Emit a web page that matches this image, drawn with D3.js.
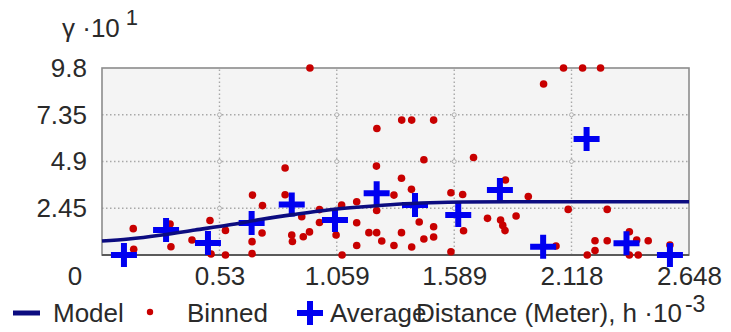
<!DOCTYPE html>
<html>
<head>
<meta charset="utf-8">
<script src="https://cdn.jsdelivr.net/npm/d3@7"></script>
<style>
  html, body { margin: 0; padding: 0; background: #ffffff; }
  svg { display: block; font-family: "Liberation Sans", Arial, sans-serif; }
</style>
</head>
<body>
<svg id="chart" width="731" height="332"></svg>
<script>
// Semivariogram: lag distance h (×10^-3 m) against semivariance γ (×10^1)

// Binned semivariance cloud
const binnedLag = [0.141,0.143,0.307,0.311,0.406,0.487,0.492,0.557,0.557,0.679,
  0.724,0.677,0.677,0.722,0.826,0.826,0.856,0.859,0.901,0.908,
  0.936,0.938,0.981,0.981,1.056,1.081,1.083,1.149,1.149,1.149,
  1.204,1.239,1.239,1.238,1.240,1.262,1.317,1.317,1.351,1.351,
  1.352,1.397,1.396,1.397,1.431,1.452,1.452,1.496,1.496,1.496,
  1.574,1.574,1.627,1.631,1.676,1.739,1.798,1.808,1.818,1.820,
  1.868,1.923,2.048,1.992,2.082,2.168,2.249,2.103,2.279,2.189,
  2.224,2.224,2.279,2.379,2.412,2.464,2.379,2.419,2.562];
const binnedGamma = [1.38,0.30,1.62,0.43,0.79,1.81,0.05,1.29,0.0,3.14,
  2.59,0.70,0.07,1.15,4.56,3.16,1.05,0.71,2.01,0.96,
  1.21,9.8,2.38,1.70,1.05,2.62,0.0,2.79,1.69,0.50,
  1.17,1.17,2.33,4.66,6.63,0.73,3.14,0.50,4.02,1.17,
  7.07,7.07,3.44,0.42,1.73,4.99,0.84,7.07,1.48,0.94,
  3.26,0.17,3.17,1.27,5.11,1.92,1.83,1.55,1.28,3.93,
  2.04,3.06,0.47,8.96,9.8,9.8,9.8,2.39,2.39,0.0,
  0.23,0.75,0.75,1.22,0.79,0.75,0.0,0.0,0.52];

// Averaged semivariance per lag class
const avgLag = [0.099,0.289,0.478,0.675,0.856,1.051,1.239,1.412,1.607,1.795,1.990,2.186,2.366,2.562];
const avgGamma = [0.0,1.31,0.63,1.68,2.65,1.83,3.23,2.62,2.10,3.41,0.43,6.08,0.61,0.0];

// Fitted model curve
const modelLag = [0,0.12,0.27,0.42,0.57,0.72,0.87,1.02,1.18,1.33,1.48,1.63,1.9,2.2,2.648];
const modelGamma = [0.73,0.84,1.05,1.31,1.57,1.87,2.13,2.36,2.53,2.66,2.74,2.78,2.79,2.79,2.79];

// Axis ticks
const xTicks = [0.53, 1.059, 1.589, 2.118, 2.648];
const yTicks = [2.45, 4.9, 7.35, 9.8];

const FONT = 26;
const TEXT = "#2a2a2a";
const svg = d3.select("#chart");

const x = d3.scaleLinear().domain([0, 2.648]).range([102, 689]);
const y = d3.scaleLinear().domain([0, 9.8]).range([255, 68]);

// plot background
svg.append("rect")
  .attr("x", x(0)).attr("y", y(9.8))
  .attr("width", x(2.648) - x(0)).attr("height", y(0) - y(9.8))
  .attr("fill", "#f4f4f4");

// dotted grid
const grid = svg.append("g").attr("stroke", "#a8a8a8").attr("stroke-width", 1.4)
  .attr("stroke-dasharray", "1.5,2.5");
grid.selectAll("line.v").data(xTicks.slice(0, -1)).join("line")
  .attr("x1", d => x(d)).attr("x2", d => x(d))
  .attr("y1", y(0)).attr("y2", y(9.8));
grid.selectAll("line.h").data(yTicks.slice(0, -1)).join("line")
  .attr("x1", x(0)).attr("x2", x(2.648))
  .attr("y1", d => y(d)).attr("y2", d => y(d));

// small rings where grid lines cross
const crossings = [];
xTicks.slice(0, -1).forEach(a => yTicks.slice(0, -1).forEach(b => crossings.push([a, b])));
svg.append("g").selectAll("circle").data(crossings).join("circle")
  .attr("cx", d => x(d[0])).attr("cy", d => y(d[1])).attr("r", 2)
  .attr("fill", "#f4f4f4").attr("stroke", "#b0b0b0").attr("stroke-width", 1);

// frame
svg.append("rect")
  .attr("x", x(0)).attr("y", y(9.8))
  .attr("width", x(2.648) - x(0)).attr("height", y(0) - y(9.8))
  .attr("fill", "none").attr("stroke", "#8c8c8c").attr("stroke-width", 1.6);
svg.append("line")
  .attr("x1", x(0)).attr("x2", x(2.648)).attr("y1", y(0)).attr("y2", y(0))
  .attr("stroke", "#5a5a5a").attr("stroke-width", 1.8);

// binned points
const binned = binnedLag.map((h, i) => ({ h, g: binnedGamma[i] }));
svg.append("g").selectAll("circle").data(binned).join("circle")
  .attr("cx", d => x(d.h)).attr("cy", d => y(d.g)).attr("r", 3.8)
  .attr("fill", "#c80000");

// averaged points as plus markers
const crossPath = "M-13,0H13M0,-12V12";
const averages = avgLag.map((h, i) => ({ h, g: avgGamma[i] }));
svg.append("g").selectAll("path").data(averages).join("path")
  .attr("d", crossPath)
  .attr("transform", d => `translate(${x(d.h)},${y(d.g)})`)
  .attr("stroke", "#0000f0").attr("stroke-width", 6).attr("fill", "none");

// model curve
const model = modelLag.map((h, i) => ({ h, g: modelGamma[i] }));
svg.append("path").datum(model)
  .attr("d", d3.line().x(d => x(d.h)).y(d => y(d.g)).curve(d3.curveMonotoneX))
  .attr("fill", "none").attr("stroke", "#0c0c80").attr("stroke-width", 3.6);

// axes (labels only)
const xAxis = svg.append("g").attr("transform", `translate(0,${y(0)})`)
  .call(d3.axisBottom(x).tickValues(xTicks).tickFormat(d => String(d)).tickSize(0).tickPadding(12));
const yAxis = svg.append("g").attr("transform", `translate(${x(0)},0)`)
  .call(d3.axisLeft(y).tickValues(yTicks).tickFormat(d => String(d)).tickSize(0).tickPadding(15));
[xAxis, yAxis].forEach(a => {
  a.select(".domain").remove();
  a.selectAll("text").attr("font-size", FONT).attr("fill", TEXT)
    .attr("font-family", "'Liberation Sans', Arial, sans-serif");
});

// shared origin label
svg.append("text").attr("x", 75).attr("y", 285).attr("text-anchor", "middle")
  .attr("font-size", FONT).attr("fill", TEXT).text("0");

// y-axis title
const yTitle = svg.append("text").attr("x", 62).attr("y", 37)
  .attr("font-size", FONT).attr("fill", TEXT);
yTitle.append("tspan").text("γ ·10");
yTitle.append("tspan").attr("dx", 6).attr("dy", -12).attr("font-size", 22).text("1");

// legend
const legY = 322;
svg.append("line").attr("x1", 13).attr("x2", 40).attr("y1", 313).attr("y2", 313)
  .attr("stroke", "#0c0c80").attr("stroke-width", 5);
svg.append("text").attr("x", 53).attr("y", legY).attr("font-size", FONT).attr("fill", TEXT).text("Model");
svg.append("circle").attr("cx", 150).attr("cy", 312).attr("r", 3.2).attr("fill", "#c80000");
svg.append("text").attr("x", 187).attr("y", legY).attr("font-size", FONT).attr("fill", TEXT).text("Binned");
svg.append("path").attr("d", crossPath).attr("transform", "translate(310,313)")
  .attr("stroke", "#0000f0").attr("stroke-width", 6).attr("fill", "none");
svg.append("text").attr("x", 330).attr("y", legY).attr("font-size", FONT).attr("fill", TEXT).text("Average");

// x-axis title
const xTitle = svg.append("text").attr("x", 416).attr("y", legY)
  .attr("font-size", FONT).attr("fill", TEXT);
xTitle.append("tspan").text("Distance (Meter), h ·10");
xTitle.append("tspan").attr("dx", 3).attr("dy", -10).attr("font-size", 23).text("-3");
</script>
</body>
</html>
